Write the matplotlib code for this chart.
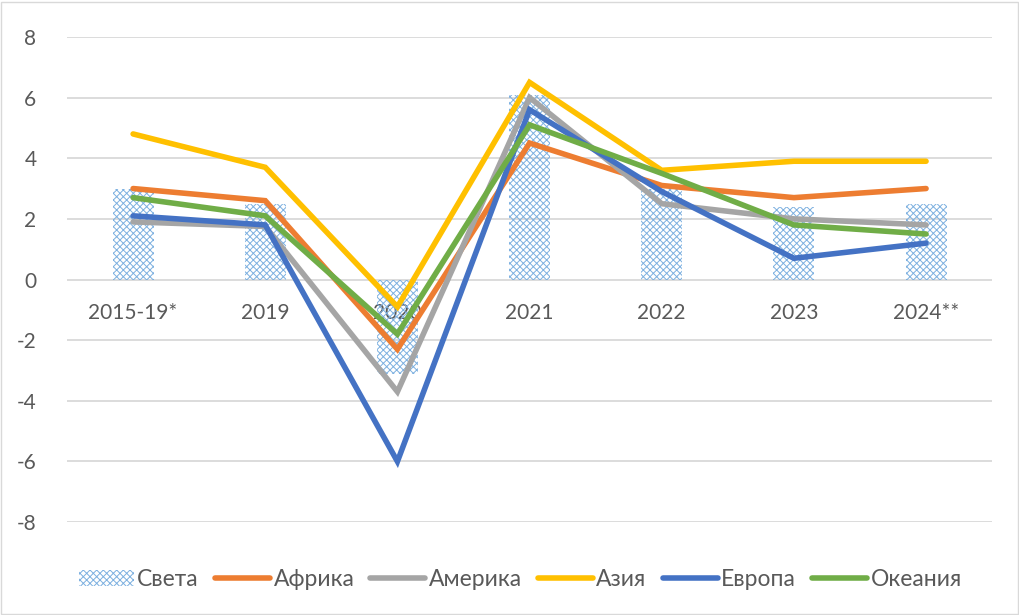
import numpy as np
import matplotlib
matplotlib.use('Agg')
from matplotlib import pyplot as plt
from matplotlib.patches import Rectangle

plt.rcParams['font.family'] = ['Lato', 'Open Sans', 'DejaVu Sans']
plt.rcParams['axes.unicode_minus'] = False
plt.rcParams['hatch.linewidth'] = 0.7

# categories and values
years = ['2015-19*', '2019', '2020', '2021', '2022', '2023', '2024**']
world = [3.0, 2.5, -3.1, 6.1, 3.0, 2.4, 2.5]          # Света (bars)
africa = [3.0, 2.6, -2.3, 4.5, 3.1, 2.7, 3.0]
america = [1.9, 1.75, -3.7, 6.0, 2.5, 2.0, 1.8]
asia = [4.8, 3.7, -0.9, 6.5, 3.6, 3.9, 3.9]
europe = [2.1, 1.8, -6.0, 5.6, 2.9, 0.7, 1.2]
oceania = [2.7, 2.1, -1.8, 5.1, 3.5, 1.8, 1.5]

series = [
	('Африка', africa, '#ED7D31'),
	('Америка', america, '#A5A5A5'),
	('Азия', asia, '#FFC000'),
	('Европа', europe, '#4472C4'),
	('Океания', oceania, '#70AD47'),
]

fig = plt.figure(figsize=(10.2, 6.15), dpi=100)
ax = fig.add_axes([0.0657, 0.151, 0.907, 0.789])

x = np.arange(len(years))
bars = ax.bar(x, world, width=0.31, color='none', edgecolor='#7DB0E0', hatch='xxxxx',
	linewidth=0, label='Света', zorder=2)

handles = [bars]
for name, vals, col in series:
	ln, = ax.plot(x, vals, color=col, linewidth=4.0, solid_capstyle='round',
		solid_joinstyle='miter', label=name, zorder=3)
	handles.append(ln)

ax.set_xlim(-0.5, len(years) - 0.5)
ax.set_ylim(-8, 8)
ax.set_yticks(np.arange(-8, 9, 2))
ax.grid(axis='y', color='#D9D9D9', linewidth=1.3, zorder=0)
ax.set_axisbelow(True)
for s in ax.spines.values():
	s.set_visible(False)

ax.spines['bottom'].set_position(('data', 0))
ax.set_xticks(x)
ax.set_xticklabels(years)
ax.tick_params(axis='x', length=0, pad=17, labelsize=15, labelcolor='#595959')
ax.tick_params(axis='y', length=0, pad=22, labelsize=15, labelcolor='#595959')

leg = ax.legend(handles=handles, loc='upper center', bbox_to_anchor=(0.49, -0.055), ncol=6,
	frameon=False, fontsize=16.5, handlelength=2.4, handletextpad=0.15, columnspacing=0.7,
	labelcolor='#595959')

fig.add_artist(Rectangle((0.001, 0.002), 0.997, 0.995, transform=fig.transFigure,
	fill=False, edgecolor='#D9D9D9', linewidth=1))

fig.savefig('out.png', dpi=100)
